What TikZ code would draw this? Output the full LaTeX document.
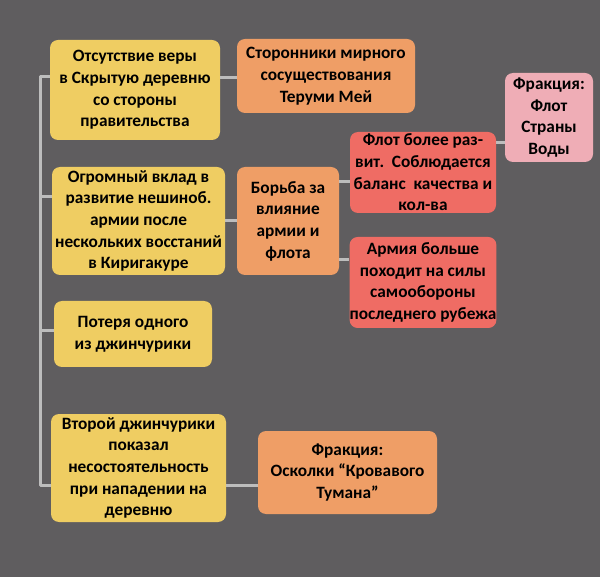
\documentclass[tikz,border=0pt]{standalone}
\usepackage{fontspec}
\setmainfont{Carlito}
\usepackage{tikz}
\definecolor{bg}{HTML}{5F5D5F}
\definecolor{yel}{HTML}{EFCD62}
\definecolor{ora}{HTML}{EF9E66}
\definecolor{rd}{HTML}{EF6C64}
\definecolor{pnk}{HTML}{EFADB6}
\definecolor{lnk}{HTML}{BDBDBD}
\tikzstyle{box} = [rounded corners=8pt,align=center,inner sep=0pt,font=\bfseries\fontsize{17.3}{21.7}\selectfont]
\tikzstyle{cause} = [box,fill=yel]
\tikzstyle{group} = [box,fill=ora]
\tikzstyle{view} = [box,fill=rd]
\tikzstyle{fraction} = [box,fill=pnk]
\tikzstyle{link} = [draw=lnk,line width=3pt]

\begin{document}
\begin{tikzpicture}[x=1pt,y=-1pt]

\fill[bg] (0,0) rectangle (600,577);

\node[cause,minimum width=170,minimum height=100] (c1) at (135,90) {Отсутствие веры\\в Скрытую деревню\\со стороны\\правительства};
\node[cause,minimum width=173,minimum height=108] (c2) at (138.5,221) {Огромный вклад в\\развитие нешиноб.\\армии после\\нескольких восстаний\\в Киригакуре};
\node[cause,minimum width=158,minimum height=66] (c3) at (133,334) {Потеря одного\\из джинчурики};
\node[cause,minimum width=175,minimum height=108] (c4) at (138.5,468) {Второй джинчурики\\показал\\несостоятельность\\при нападении на\\деревню};

\node[group,minimum width=178,minimum height=74] (g1) at (326,76) {Сторонники мирного\\сосуществования\\Теруми Мей};
\node[group,minimum width=102,minimum height=108] (g2) at (288,221) {Борьба за\\влияние\\армии и\\флота};
\node[group,minimum width=179,minimum height=83] (g3) at (347.5,472.5) {Фракция:\\Осколки “Кровавого\\Тумана”};

\node[view,minimum width=146,minimum height=81] (v1) at (423,172.5) {Флот более раз-\\вит.\ \ Соблюдается\\баланс\ \ качества и\\кол-ва};
\node[view,minimum width=146,minimum height=91] (v2) at (423,282.5) {Армия больше\\походит на силы\\самообороны\\последнего рубежа};

\node[fraction,minimum width=88,minimum height=89] (f1) at (549,117.5) {Фракция:\\Флот\\Страны\\Воды};

% spine
\coordinate (s1) at (40,77);
\coordinate (s2) at (40,197);
\coordinate (s3) at (40,331);
\coordinate (s4) at (40,485);
\draw[link,line join=round] (s1 -| c1.west) -- (s1) -- (s4) -- (s4 -| c4.west);
\draw[link] (s2) -- (s2 -| c2.west);
\draw[link] (s3) -- (s3 -| c3.west);

\draw[link] ([yshift=-2]g1.west -| c1.east) -- ([yshift=-2]g1.west);
\draw[link] (c2.east) -- (g2.west);
\draw[link] ([yshift=-9.5]v1.west -| g2.east) -- ([yshift=-9.5]v1.west);
\draw[link] ([yshift=22.5]v2.west -| g2.east) -- ([yshift=22.5]v2.west);
\draw[link] ([yshift=-25.5]f1.west -| v1.east) -- ([yshift=-25.5]f1.west);
\draw[link] ([yshift=-12.5]g3.west -| c4.east) -- ([yshift=-12.5]g3.west);

\end{tikzpicture}
\end{document}
